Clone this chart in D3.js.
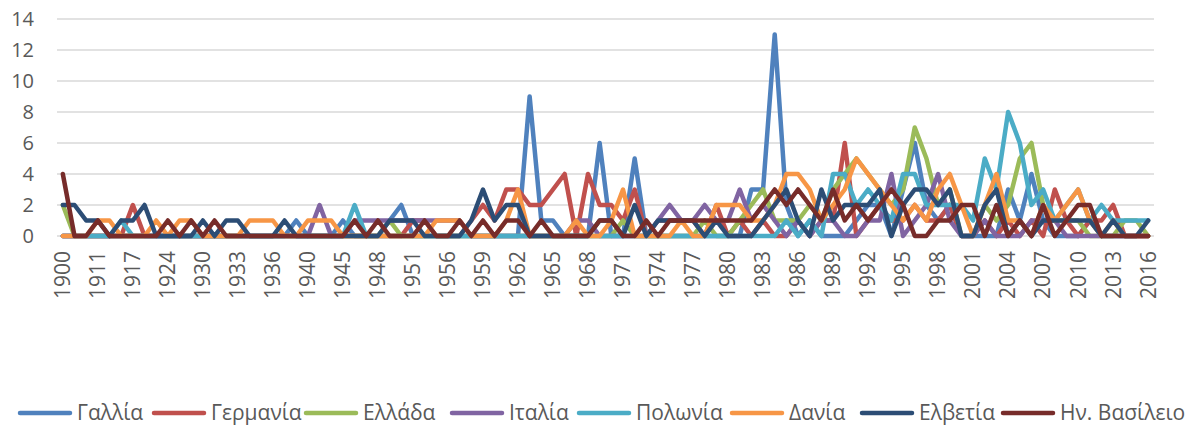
<!DOCTYPE html>
<html>
<head>
<meta charset="utf-8">
<script src="https://cdn.jsdelivr.net/npm/d3@7"></script>
<style>
  body { margin: 0; background: #fff; }
  svg { display: block; font-family: "Open Sans", "Liberation Sans", sans-serif; }
</style>
</head>
<body>
<svg id="chart" width="1192" height="428"></svg>
<script>
// years on the category axis (only every third one gets a label)
var years = [1900,1905,1908,1911,1913,1914,1917,1919,1920,1924,1926,1928,1930,1931,1932,1933,1934,1935,1936,1938,1939,1940,1942,1944,
  1945,1946,1947,1948,1949,1950,1951,1953,1954,1956,1957,1958,
  1959,1960,1961,1962,1963,1964,1965,1966,1967,1968,1969,1970,1971,1972,1973,1974,1975,1976,1977,1978,1979,
  1980,1981,1982,1983,1984,1985,1986,1987,1988,1989,1990,1991,1992,1993,1994,1995,1996,1997,1998,1999,
  2000,2001,2002,2003,2004,2005,2006,2007,2008,2009,2010,2011,2012,2013,2014,2015,2016];

var yTicks = [0, 2, 4, 6, 8, 10, 12, 14];

var countries = ['Γαλλία', 'Γερμανία', 'Ελλάδα', 'Ιταλία', 'Πολωνία', 'Δανία', 'Ελβετία', 'Ην. Βασίλειο'];
var colors = ['#4f81bd', '#c0504d', '#9bbb59', '#8064a2', '#4bacc6', '#f79646', '#2c4d75', '#772c2a'];

var france = [0,0,0,0,0,0,0,0,0,0, 0,0,0,0,0,0,0,0,0,0, 1,0,0,0,1,0,0,0,1,2, 0,0,0,0,0,0,0,0,0,0,
  9,1,1,0,0,0,6,0,0,5, 0,0,0,0,0,0,0,0,0,3, 3,13,2,0,1,0,0,0,1,2, 2,0,3,6,2,1,2,0,0,0,
  0,3,1,4,1,0,0,0,1,0, 0,0,0,0];
var germany = [0,0,0,0,0,0,2,0,0,0, 0,0,0,0,0,0,0,0,0,0, 0,0,0,0,0,0,0,0,0,0, 1,1,0,0,0,1,2,1,3,3,
  2,2,3,4,0,4,2,2,1,3, 0,1,1,1,1,0,2,0,1,0, 1,0,0,1,0,1,1,6,0,1, 2,1,1,2,1,1,2,0,0,1,
  0,1,0,1,0,3,1,0,1,1, 2,0,0,0];
var greece = [2,0,0,0,0,0,0,0,0,0, 0,0,0,0,0,0,0,0,0,0, 0,0,0,0,0,0,0,0,1,0, 0,0,0,0,0,0,0,0,0,0,
  0,0,0,0,0,0,0,0,1,0, 0,0,0,0,0,1,0,0,1,2, 3,1,1,1,2,1,3,4,5,4, 3,2,3,7,5,2,3,0,0,2,
  1,2,5,6,2,1,1,1,0,0, 0,1,1,0];
var italy = [0,0,0,0,0,0,0,0,0,0, 0,0,0,0,0,0,0,0,0,0, 0,0,2,0,0,1,1,1,1,1, 1,1,1,1,1,0,0,0,0,0,
  0,0,0,0,1,1,0,0,0,0, 0,1,2,1,1,2,1,1,3,1, 2,1,0,1,0,1,1,0,0,1, 1,4,0,1,2,4,1,0,0,1,
  0,0,0,1,1,1,0,0,0,0, 0,0,0,0];
var poland = [0,0,0,0,0,1,0,0,0,0, 0,0,0,0,0,0,0,0,0,0, 0,0,0,0,0,2,0,0,0,0, 0,0,0,0,0,0,0,0,0,0,
  0,0,0,0,0,0,0,0,0,0, 0,0,0,0,0,0,0,0,0,0, 0,0,1,0,1,0,4,4,2,3, 2,1,4,4,2,2,2,2,1,5,
  3,8,6,2,3,1,2,3,1,2, 1,1,1,1];
var denmark = [0,0,0,1,1,0,0,0,1,0, 1,1,0,0,0,0,1,1,1,0, 0,1,1,1,0,0,0,0,0,0, 0,0,1,1,1,0,0,0,1,3,
  0,0,0,0,1,0,0,1,3,0, 0,0,0,1,0,0,2,2,2,1, 1,2,4,4,3,1,2,3,5,4, 3,2,1,2,1,3,4,2,0,2,
  4,1,1,0,2,1,2,3,1,0, 1,0,0,0];
var switzerland = [2,2,1,1,0,1,1,2,0,0, 0,0,1,0,1,1,0,0,0,1, 0,0,0,0,0,0,0,0,1,1, 1,0,0,0,0,1,3,1,2,2,
  0,0,0,0,0,0,1,1,0,2, 0,1,1,1,1,0,1,0,0,0, 1,2,3,1,0,3,1,2,2,2, 3,0,2,3,3,2,3,0,0,2,
  3,0,1,0,1,1,1,1,1,0, 1,0,0,1];
var uk = [4,0,0,1,0,0,0,0,0,1, 0,1,0,1,0,0,0,0,0,0, 0,0,0,0,0,1,0,1,0,0, 0,1,0,0,1,0,1,0,1,1,
  0,1,0,0,0,0,1,1,0,0, 1,0,1,1,1,1,1,1,1,1, 2,3,2,3,2,1,3,1,2,1, 2,3,2,0,0,1,1,2,2,0,
  2,0,1,0,2,0,1,2,2,0, 0,0,0,0];

var series = [france, germany, greece, italy, poland, denmark, switzerland, uk];

var svg = d3.select('#chart');

var x = d3.scalePoint()
  .domain(years)
  .range([57, 1154])
  .padding(0.5);

var y = d3.scaleLinear()
  .domain([0, 14])
  .range([236, 19]);

// horizontal gridlines
svg.append('g')
  .selectAll('line')
  .data(yTicks)
  .enter()
  .append('line')
  .attr('x1', 57)
  .attr('x2', 1154)
  .attr('y1', function(d){ return y(d); })
  .attr('y2', function(d){ return y(d); })
  .attr('stroke', '#d9d9d9')
  .attr('stroke-width', 1.3);

// y axis labels
svg.append('g')
  .selectAll('text')
  .data(yTicks)
  .enter()
  .append('text')
  .attr('x', 34)
  .attr('y', function(d){ return y(d); })
  .attr('dy', '0.35em')
  .attr('text-anchor', 'end')
  .attr('font-size', 20)
  .attr('fill', '#595959')
  .text(function(d){ return d; });

// x axis labels, every third year, rotated
var labelYears = years.filter(function(d, i){ return i % 3 === 0; });
svg.append('g')
  .selectAll('text')
  .data(labelYears)
  .enter()
  .append('text')
  .attr('transform', function(d){ return 'translate(' + x(d) + ',251) rotate(-90)'; })
  .attr('dy', '0.35em')
  .attr('text-anchor', 'end')
  .attr('font-size', 21)
  .attr('fill', '#595959')
  .text(function(d){ return d; });

var line = d3.line()
  .x(function(d, i){ return x(years[i]); })
  .y(function(d){ return y(d); });

svg.append('g')
  .selectAll('path')
  .data(series)
  .enter()
  .append('path')
  .attr('d', line)
  .attr('fill', 'none')
  .attr('stroke', function(d, i){ return colors[i]; })
  .attr('stroke-width', 4.5)
  .attr('stroke-linejoin', 'round')
  .attr('stroke-linecap', 'round');

// legend
var legendX = [18, 152, 304, 450, 577, 730, 860, 1001];
var legend = svg.append('g')
  .selectAll('g')
  .data(countries)
  .enter()
  .append('g')
  .attr('transform', function(d, i){ return 'translate(' + legendX[i] + ',413)'; });

legend.append('line')
  .attr('x1', 2)
  .attr('x2', 52)
  .attr('stroke', function(d, i){ return colors[i]; })
  .attr('stroke-width', 4.5)
  .attr('stroke-linecap', 'round');

legend.append('text')
  .attr('x', 59)
  .attr('dy', '0.35em')
  .attr('font-size', 21)
  .attr('fill', '#595959')
  .text(function(d){ return d; });
</script>
</body>
</html>
